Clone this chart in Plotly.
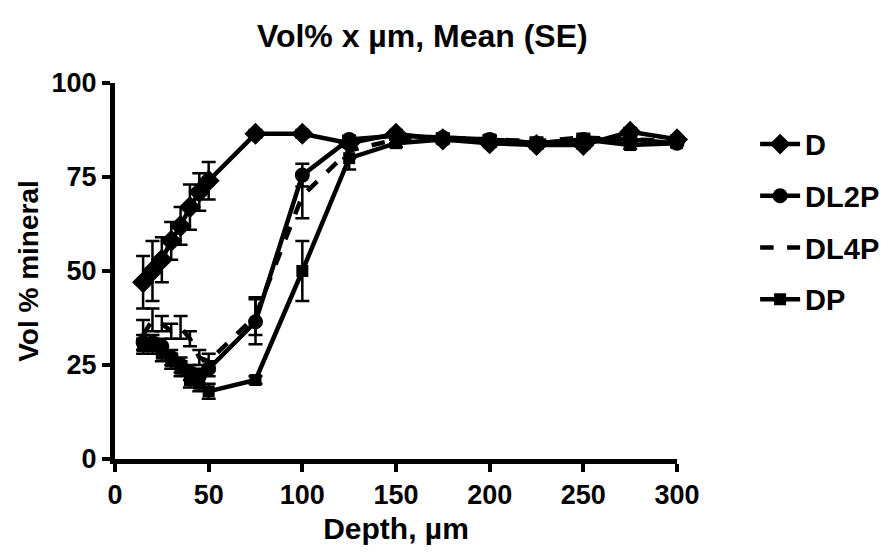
import plotly.graph_objects as go

depth = [15, 20, 25, 30, 35, 40, 45, 50, 75, 100, 125, 150, 175, 200, 225, 250, 275, 300]

d_mean = [47, 50, 53, 58, 62, 67, 71, 74, 86.5, 86.5, 84, 86.5, 85, 84, 83.5, 83.5, 87, 85]
d_se = [7, 8, 6, 5, 5, 6, 5, 5, 1, 1, 1, 1, 1, 1, 1, 1, 1, 1]

dl2p_mean = [31, 31, 30, 27, 25, 23, 22, 24, 36.5, 75.5, 85, 86, 85.5, 85, 84, 85, 85, 84]
dl2p_se = [2, 2, 2, 2, 2, 2, 2, 2, 6, 3, 1, 1, 1, 1, 1, 1, 1, 1]

dl4p_mean = [33, 37, 36, 34, 35, 32, 27, 26, 38, 70, 82, 85, 85.5, 85, 84.5, 85.5, 85, 84.5]
dl4p_se = [4, 3, 2, 2, 3, 2, 2, 2, 5, 6, 2, 1, 1, 1, 1, 1, 1, 1]

dp_mean = [30, 30, 28, 26, 24, 21, 20, 18, 21, 50, 80, 84, 85, 85, 84, 85, 83.5, 84]
dp_se = [2, 2, 2, 2, 2, 2, 2, 2, 1, 8, 3, 1, 1, 1, 1, 1, 1, 1]

series_names = ["D", "DL2P", "DL4P", "DP"]
x_ticks = [0, 50, 100, 150, 200, 250, 300]
y_ticks = [0, 25, 50, 75, 100]

FONT = "Liberation Sans"

fig = go.Figure()

def add(name, y, se, symbol, dash, size):
    fig.add_trace(go.Scatter(
        x=depth, y=y, name=f"<b>{name}</b>", legendgroup=name,
        mode="lines+markers" if symbol else "lines",
        line=dict(color="black", width=4.5, dash=dash),
        marker=dict(symbol=symbol or "circle", size=size, color="black"),
        error_y=dict(type="data", array=se, visible=True, color="black",
                     thickness=2.5, width=7),
        cliponaxis=False,
    ))

add(series_names[0], d_mean, d_se, "diamond", "solid", 17)
add(series_names[1], dl2p_mean, dl2p_se, "circle", "solid", 15)
add(series_names[2], dl4p_mean, dl4p_se, None, "dash", 1)
add(series_names[3], dp_mean, dp_se, "square", "solid", 12)

fig.update_layout(
    width=891, height=553,
    paper_bgcolor="white", plot_bgcolor="white",
    margin=dict(l=107, r=222, t=75, b=102),
    title=dict(text="<b>Vol% x µm, Mean (SE)</b>", x=0.465, xanchor="center",
               y=0.949, yanchor="middle",
               font=dict(family=FONT, size=32, color="black")),
    font=dict(family=FONT, color="black"),
    showlegend=True,
    legend=dict(x=1.139, y=0.905, xanchor="left", yanchor="top",
                font=dict(family=FONT, size=29, color="black"),
                tracegroupgap=11, itemwidth=40, bgcolor="rgba(0,0,0,0)"),
    xaxis=dict(range=[0, 300], tickvals=x_ticks,
               ticktext=[f"<b>{v}</b>" for v in x_ticks],
               showline=True, linecolor="black", linewidth=5,
               ticks="outside", ticklen=8, tickwidth=4, tickcolor="black",
               showgrid=False, zeroline=False,
               tickfont=dict(family=FONT, size=27, color="black"),
               title=dict(text="<b>Depth, µm</b>", standoff=10,
                          font=dict(family=FONT, size=30, color="black"))),
    yaxis=dict(range=[0, 100], tickvals=y_ticks,
               ticktext=[f"<b>{v}</b>" for v in y_ticks],
               showline=True, linecolor="black", linewidth=5,
               ticks="outside", ticklen=8, tickwidth=4, tickcolor="black",
               showgrid=False, zeroline=False,
               tickfont=dict(family=FONT, size=27, color="black"),
               title=dict(text="<b>Vol % mineral</b>", standoff=6,
                          font=dict(family=FONT, size=28, color="black"))),
)

fig.write_html("out.html")
